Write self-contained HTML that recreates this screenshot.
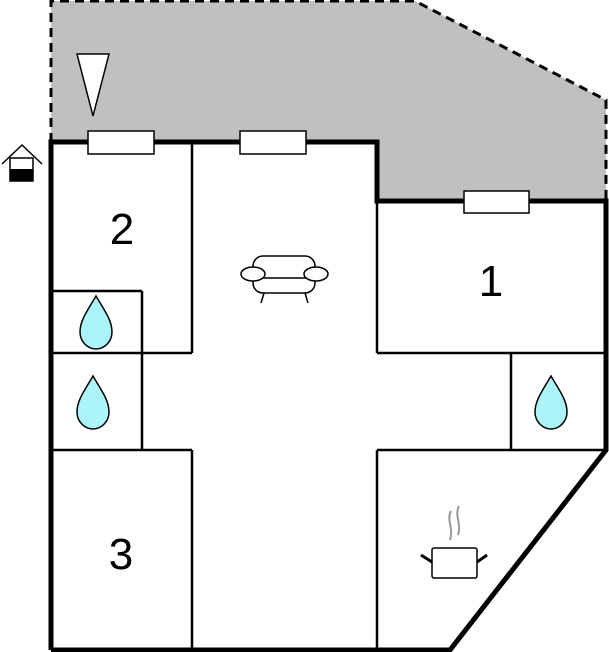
<!DOCTYPE html>
<html><head><style>body{margin:0;background:#fff}svg{display:block}</style></head><body>
<svg width="609" height="652" viewBox="0 0 609 652" xmlns="http://www.w3.org/2000/svg">
<polygon points="51,1 415,1 606,100 606,201 377,201 377,142 51,142" fill="#c0c0c0"/>
<polyline points="51,142 51,1 415,1 606,100 606,201" fill="none" stroke="#000" stroke-width="3" stroke-dasharray="9,6"/>
<g stroke="#000" stroke-width="2.5" fill="none">
<line x1="192" y1="142" x2="192" y2="353"/>
<line x1="51" y1="291" x2="142" y2="291"/>
<line x1="51" y1="353" x2="192" y2="353"/>
<line x1="142" y1="291" x2="142" y2="450"/>
<line x1="51" y1="450" x2="192" y2="450"/>
<line x1="192" y1="450" x2="192" y2="650"/>
<line x1="377" y1="201" x2="377" y2="353"/>
<line x1="377" y1="353" x2="606" y2="353"/>
<line x1="511" y1="353" x2="511" y2="450"/>
<line x1="377" y1="450" x2="606" y2="450"/>
<line x1="377" y1="450" x2="377" y2="650"/>
</g>
<polyline points="51,650 51,142 377,142 377,201 606,201 606,450 450,650 51,650" fill="none" stroke="#000" stroke-width="5"/>
<g fill="#fff" stroke="#000" stroke-width="1.5">
<rect x="88" y="131" width="66" height="23"/>
<rect x="240" y="131" width="66" height="23"/>
<rect x="464" y="191" width="65" height="22"/>
<polygon points="77,54 109,54 93,116"/>
</g>
<g stroke="#000" stroke-width="1.5" fill="none">
<polyline points="2,164 22,145 42,164"/>
<rect x="10" y="158" width="23" height="23" fill="#fff"/>
</g>
<rect x="10" y="169" width="23" height="12" fill="#000"/>
<g fill="#aaf4fa" stroke="#000" stroke-width="1.5">
<path d="M96,296 C88,310 80,320 80,332 C80,342 88,349 96,349 C104,349 112,342 112,332 C112,320 104,310 96,296Z"/>
<path d="M93,376 C85,390 77,400 77,412 C77,422 85,429 93,429 C101,429 109,422 109,412 C109,400 101,390 93,376Z"/>
<path d="M551,376 C543,390 535,400 535,412 C535,422 543,429 551,429 C559,429 567,422 567,412 C567,400 559,390 551,376Z"/>
</g>
<g stroke="#000" stroke-width="1.5" fill="#fff">
<rect x="253" y="256" width="62" height="37" rx="10"/>
<line x1="253" y1="278" x2="315" y2="278"/>
<ellipse cx="253" cy="274" rx="12" ry="7"/>
<ellipse cx="316" cy="274" rx="12" ry="7"/>
<line x1="264" y1="293" x2="261" y2="303"/>
<line x1="305" y1="293" x2="308" y2="303"/>
</g>
<g fill="none" stroke="#999" stroke-width="2">
<path d="M451,511 C446,520 454,528 450,540"/>
<path d="M459,506 C454,516 462,524 458,535"/>
</g>
<rect x="432" y="548" width="45" height="30" rx="2" fill="#fff" stroke="#000" stroke-width="1.5"/>
<g stroke="#000" stroke-width="3"><line x1="421" y1="555" x2="432" y2="562"/><line x1="477" y1="562" x2="487" y2="555"/></g>
<g font-family="Liberation Sans, sans-serif" font-size="44" text-anchor="middle" fill="#000">
<text x="122" y="244">2</text>
<text x="491" y="296">1</text>
<text x="121" y="569">3</text>
</g>
</svg>
</body></html>
